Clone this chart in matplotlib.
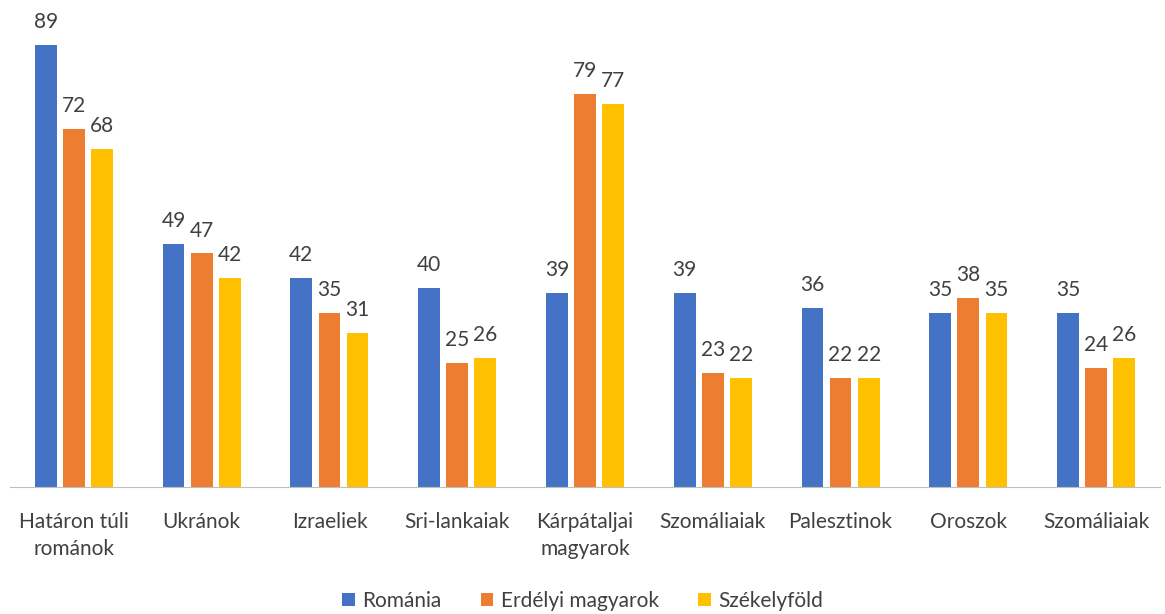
import matplotlib.pyplot as plt
import numpy as np

plt.rcParams['font.family'] = ['Lato', 'DejaVu Sans']

categories = ["Határon túli\nrománok", "Ukránok", "Izraeliek", "Sri-lankaiak",
              "Kárpátaljai\nmagyarok", "Szomáliaiak", "Palesztinok", "Oroszok", "Szomáliaiak"]
romania = [89, 49, 42, 40, 39, 39, 36, 35, 35]
erdelyi = [72, 47, 35, 25, 79, 23, 22, 38, 24]
szekely = [68, 42, 31, 26, 77, 22, 22, 35, 26]
series = ["Románia", "Erdélyi magyarok", "Székelyföld"]
colors = ["#4472C4", "#ED7D31", "#FFC000"]

fig = plt.figure(figsize=(11.65, 6.14), dpi=100)
ax = fig.add_axes([10 / 1165, 1 - 487 / 614, 1150 / 1165, 487 / 614])

x = np.arange(len(categories))
w = 0.17
step = 0.22
for i, (vals, name, c) in enumerate(zip([romania, erdelyi, szekely], series, colors)):
    pos = x + (i - 1) * step
    bars = ax.bar(pos, vals, width=w, color=c, label=name)
    for b, v in zip(bars, vals):
        ax.text(b.get_x() + b.get_width() / 2, v + 2.6, str(v), ha='center', va='bottom',
                fontsize=15, color='#404040')

ax.set_xlim(-0.5, len(categories) - 0.5)
ax.set_ylim(0, 98)
ax.set_yticks([])
ax.set_xticks(x)
ax.set_xticklabels(categories, fontsize=15, color='#404040', linespacing=1.45)
ax.tick_params(axis='x', length=0, pad=18)
for s in ['top', 'right', 'left']:
    ax.spines[s].set_visible(False)
ax.spines['bottom'].set_color('#BFBFBF')

fig.legend(loc='center', bbox_to_anchor=(0.5, 1 - 601 / 614), ncol=3, frameon=False,
           fontsize=15, handlelength=0.6, handleheight=0.6, columnspacing=1.9,
           handletextpad=0.35, labelcolor='#404040')

fig.savefig("out.png", dpi=100)
